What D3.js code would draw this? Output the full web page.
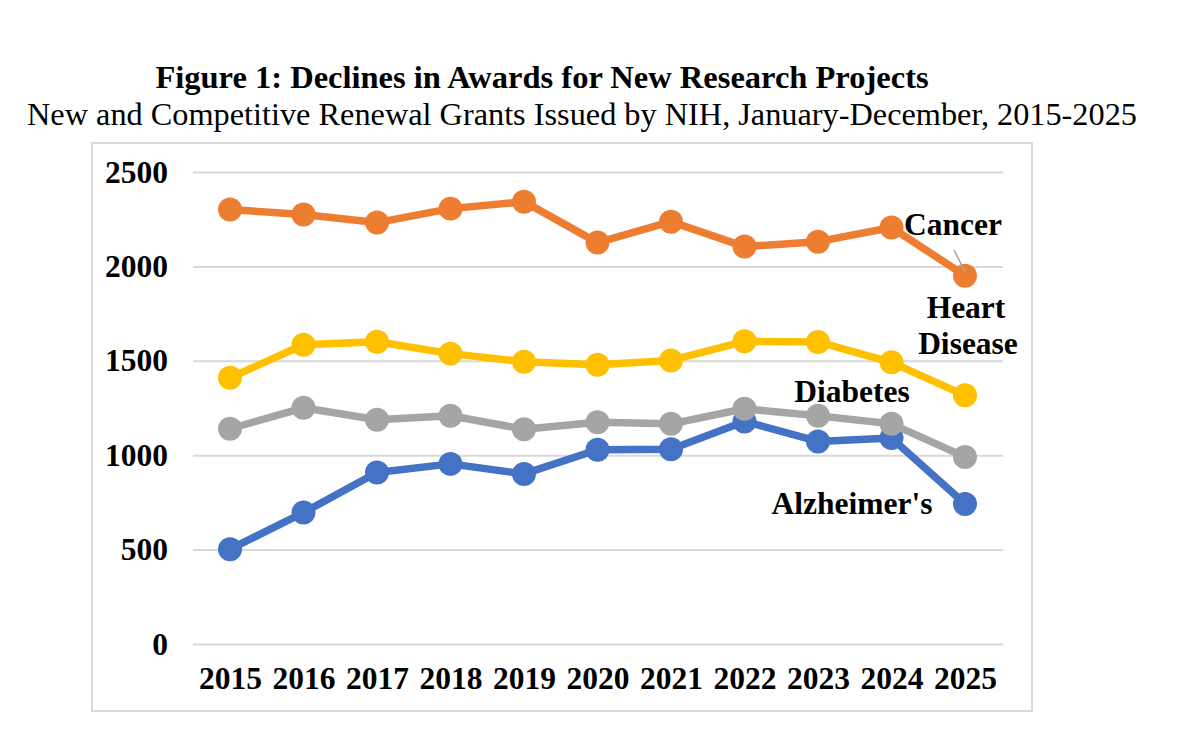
<!DOCTYPE html>
<html><head><meta charset="utf-8">
<script src="https://cdn.jsdelivr.net/npm/d3@7"></script>
<style>
html,body{margin:0;padding:0;background:#fff;}
svg{display:block;}
text{font-family:"Liberation Serif","Times New Roman",serif;}
</style></head>
<body>
<svg id="c" width="1179" height="746"></svg>
<script>
const years = [2015,2016,2017,2018,2019,2020,2021,2022,2023,2024,2025];
const cancer = [2301,2275,2232,2306,2343,2126,2237,2105,2131,2206,1951];
const heart = [1410,1585,1601,1538,1495,1479,1502,1603,1600,1492,1317];
const diabetes = [1140,1251,1188,1209,1138,1174,1166,1246,1209,1166,991];
const alzheimers = [502,696,908,954,901,1029,1032,1179,1073,1091,742];
const yTicks = [0,500,1000,1500,2000,2500];
const seriesNames = ["Cancer","Heart Disease","Diabetes","Alzheimer's"];
const seriesColors = ["#ED7D31","#FFC000","#A5A5A5","#4472C4"];

const series = [
  {name:seriesNames[0], values:cancer, color:seriesColors[0]},
  {name:seriesNames[1], values:heart, color:seriesColors[1]},
  {name:seriesNames[2], values:diabetes, color:seriesColors[2]},
  {name:seriesNames[3], values:alzheimers, color:seriesColors[3]}
];

const svg = d3.select("#c");
const x = d3.scalePoint().domain(years).range([230,965]);
const y = d3.scaleLinear().domain([0,2500]).range([644,172]);

// chart border
svg.append("rect").attr("x",92).attr("y",143).attr("width",940).attr("height",568)
  .attr("fill","#fff").attr("stroke","#d9d9d9").attr("stroke-width",2);

// title
svg.append("text").attr("x",542).attr("y",88).attr("text-anchor","middle")
  .attr("font-weight","bold").attr("font-size",32.5).attr("fill","#000")
  .text("Figure 1: Declines in Awards for New Research Projects");
svg.append("text").attr("x",582).attr("y",125).attr("text-anchor","middle")
  .attr("font-size",32.3).attr("fill","#000")
  .text("New and Competitive Renewal Grants Issued by NIH, January-December, 2015-2025");

// gridlines
const yAxis = d3.axisLeft(y).tickValues(yTicks).tickSize(-810).tickPadding(25).tickFormat(d3.format("d"));
const gy = svg.append("g").attr("transform","translate(193,0)").call(yAxis);
gy.select(".domain").remove();
gy.selectAll(".tick line").attr("stroke","#d9d9d9").attr("stroke-width",2);
gy.selectAll(".tick text").attr("font-family","Liberation Serif").attr("font-weight","bold")
  .attr("font-size",31.5).attr("fill","#000");

// x axis labels
const xAxis = d3.axisBottom(x).tickSize(0).tickFormat(d3.format("d"));
const gx = svg.append("g").attr("transform","translate(0,644)").call(xAxis);
gx.select(".domain").remove();
gx.selectAll(".tick text").attr("font-family","Liberation Serif").attr("font-weight","bold")
  .attr("font-size",31.5).attr("fill","#000").attr("dy",null).attr("y",45);

const line = d3.line().x((d,i)=>x(years[i])).y(d=>y(d));

const order = [3,2,1,0];
order.forEach(k=>{
  const s = series[k];
  const g = svg.append("g");
  g.append("path").attr("d",line(s.values)).attr("fill","none")
    .attr("stroke",s.color).attr("stroke-width",7.5).attr("stroke-linejoin","round");
  g.selectAll("circle").data(s.values).join("circle")
    .attr("cx",(d,i)=>x(years[i])).attr("cy",d=>y(d)).attr("r",12).attr("fill",s.color);
});

// leader line for cancer
svg.append("line").attr("x1",954).attr("y1",250).attr("x2",x(2025)).attr("y2",y(cancer[10])-4)
  .attr("stroke","#A5A5A5").attr("stroke-width",1.5);

// labels
const lab = (t,xx,yy)=>svg.append("text").attr("x",xx).attr("y",yy).attr("text-anchor","middle")
  .attr("font-weight","bold").attr("font-size",31.5).attr("fill","#000").text(t);
lab("Cancer",953,235);
lab("Heart",966,318);
lab("Disease",968,354);
lab("Diabetes",852,402);
lab("Alzheimer's",852,514);
</script>
</body></html>
